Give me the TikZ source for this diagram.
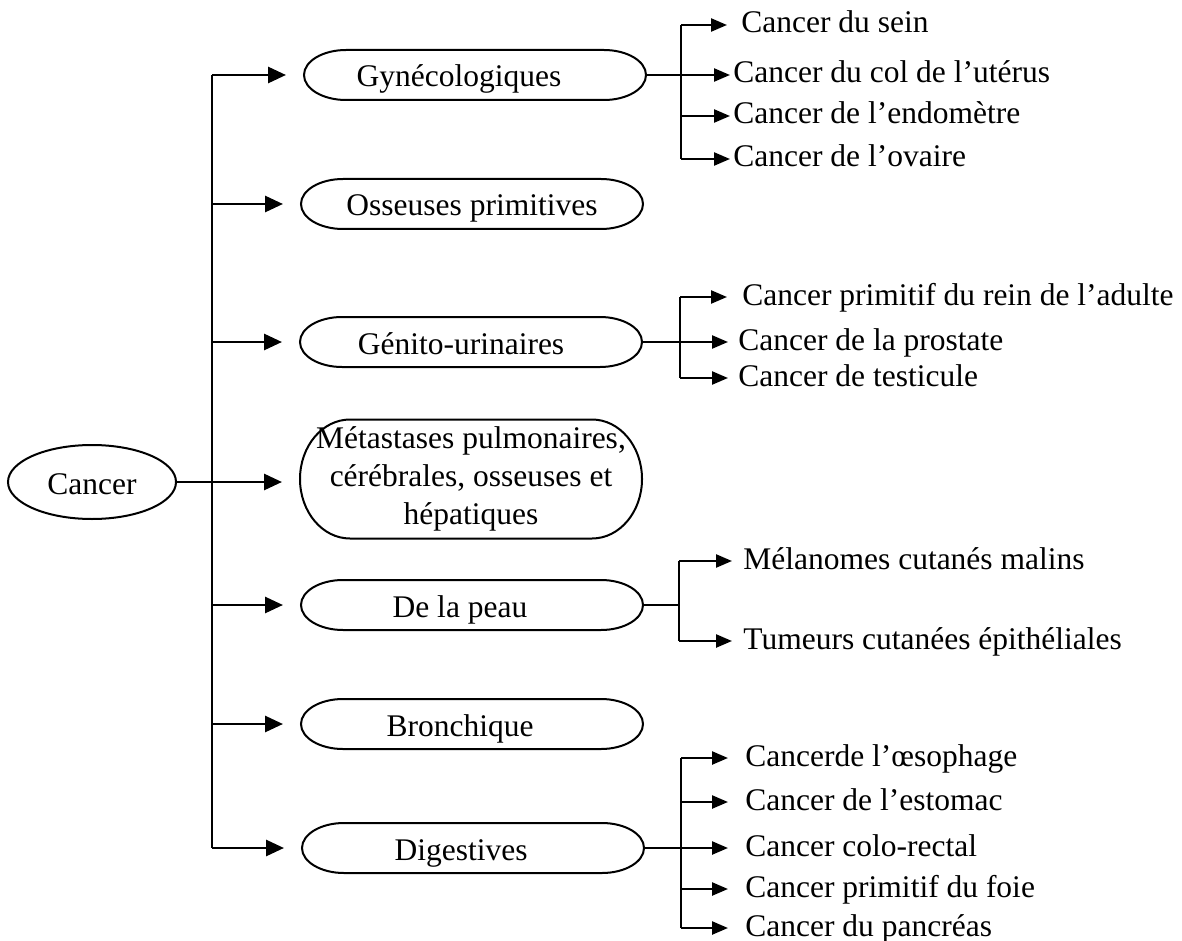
\documentclass[tikz,border=0pt]{standalone}
\usepackage{fontspec}
\setmainfont{Liberation Serif}
\usepackage{tikz}
\usetikzlibrary{arrows.meta,positioning,shapes.geometric}

\tikzset{
	root/.style={ellipse, draw, line width=1pt, minimum width=84pt, minimum height=37pt, inner sep=0pt, text height=15pt, text depth=3pt},
	capsule/.style={rectangle, minimum width=171pt, minimum height=25pt, inner sep=0pt, outer sep=0pt, text height=15pt, text depth=3pt, execute at begin node={\hspace*{-#1}}},
	capsule/.default=12pt,
	bigcapsule/.style={rectangle, minimum width=171pt, minimum height=59.5pt, inner sep=0pt, outer sep=0pt, align=center},
	item/.style={anchor=west, inner sep=0pt, text height=11pt, text depth=3pt},
	link/.style={line width=1pt},
	branch/.style={line width=1.4pt, -{Triangle[length=9pt,width=8pt]}},
	subbranch/.style={line width=1.2pt, -{Triangle[length=8pt,width=6.5pt]}}
}

% outline with elliptic ends: node, x radius, y radius
\newcommand{\drawcapsule}[3]{%
	\draw[link] ([xshift=#2]#1.north west) -- ([xshift=-#2]#1.north east)
		arc[start angle=90, end angle=-90, x radius=#2, y radius=#3]
		-- ([xshift=#2]#1.south west)
		arc[start angle=270, end angle=90, x radius=#2, y radius=#3] -- cycle;}

\begin{document}
\begin{tikzpicture}[x=0.5pt, y=-0.5pt, font=\fontsize{15.75}{19}\selectfont]
		\useasboundingbox (0,0) rectangle (1182,941);
		% root and categories
		\node[root] (cancer) at (92,482) {Cancer};
		\node[capsule=16pt] (gyn) at (475,75) {Gynécologiques};
		\node[capsule=0pt] (oss) at (472,204) {Osseuses primitives};
		\node[capsule=10pt] (gen) at (471,342) {Génito-urinaires};
		\node[bigcapsule] (meta) at (471,479) {Métastases pulmonaires,\\ cérébrales, osseuses et\\ hépatiques};
		\node[capsule] (peau) at (472,605) {De la peau};
		\node[capsule] (bron) at (472,724) {Bronchique};
		\node[capsule] (dig) at (473,848) {Digestives};
		\drawcapsule{gyn}{21pt}{12.5pt}
		\drawcapsule{oss}{21pt}{12.5pt}
		\drawcapsule{gen}{21pt}{12.5pt}
		\drawcapsule{meta}{25pt}{29.75pt}
		\drawcapsule{peau}{21pt}{12.5pt}
		\drawcapsule{bron}{21pt}{12.5pt}
		\drawcapsule{dig}{21pt}{12.5pt}
		% trunk
		\coordinate (ttop) at (212,75);
		\coordinate (tbot) at (212,848);
		\draw[link] (ttop) -- (tbot);
		\draw[link] (cancer.east) -- (cancer.east -| ttop);
		\draw[branch] (cancer.east -| ttop) -- ([xshift=-9pt]cancer.east -| meta.west);
		\draw[branch] (ttop |- gyn.west) -- ([xshift=-9pt]gyn.west);
		\draw[branch] (ttop |- oss.west) -- ([xshift=-9pt]oss.west);
		\draw[branch] (ttop |- gen.west) -- ([xshift=-9pt]gen.west);
		\draw[branch] (ttop |- peau.west) -- ([xshift=-9pt]peau.west);
		\draw[branch] (ttop |- bron.west) -- ([xshift=-9pt]bron.west);
		\draw[branch] (ttop |- dig.west) -- ([xshift=-9pt]dig.west);
		% gynecologiques
		\node[item] (sein) at (741,25) {Cancer du sein};
		\node[item] (col) at (733,75) {Cancer du col de l’utérus};
		\node[item] (endo) at (733,116) {Cancer de l’endomètre};
		\node[item] (ovaire) at (733,159) {Cancer de l’ovaire};
		\coordinate (gbar) at (681,75);
		\draw[link] (gyn.east) -- (gbar);
		\draw[link] (gbar |- sein.west) -- (gbar |- ovaire.west);
		\draw[subbranch] (gbar |- sein.west) -- ([xshift=-7pt]sein.west);
		\draw[subbranch] (gbar |- col.west) -- ([xshift=-1.5pt]col.west);
		\draw[subbranch] (gbar |- endo.west) -- ([xshift=-1.5pt]endo.west);
		\draw[subbranch] (gbar |- ovaire.west) -- ([xshift=-1.5pt]ovaire.west);
		% genito-urinaires
		\node[item] (rein) at (742,297) {Cancer primitif du rein de l’adulte};
		\node[item] (prostate) at (738,342) {Cancer de la prostate};
		\node[item] (testicule) at (738,378) {Cancer de testicule};
		\coordinate (ubar) at (680,342);
		\draw[link] (gen.east) -- (ubar);
		\draw[link] (ubar |- rein.west) -- (ubar |- testicule.west);
		\draw[subbranch] (ubar |- rein.west) -- ([xshift=-7.5pt]rein.west);
		\draw[subbranch] (ubar |- prostate.west) -- ([xshift=-5pt]prostate.west);
		\draw[subbranch] (ubar |- testicule.west) -- ([xshift=-5pt]testicule.west);
		% peau
		\node[item] (melan) at (743,561) {Mélanomes cutanés malins};
		\node[item] (tumeurs) at (743,641) {Tumeurs cutanées épithéliales};
		\coordinate (pbar) at (679,605);
		\draw[link] (peau.east) -- (pbar);
		\draw[link] (pbar |- melan.west) -- (pbar |- tumeurs.west);
		\draw[subbranch] (pbar |- melan.west) -- ([xshift=-5.5pt]melan.west);
		\draw[subbranch] (pbar |- tumeurs.west) -- ([xshift=-5.5pt]tumeurs.west);
		% digestives
		\node[item] (oeso) at (745,758) {Cancerde l’œsophage};
		\node[item] (estomac) at (745,802) {Cancer de l’estomac};
		\node[item] (colo) at (745,848) {Cancer colo-rectal};
		\node[item] (foie) at (745,889) {Cancer primitif du foie};
		\node[item] (pancreas) at (745,928) {Cancer du pancréas};
		\coordinate (dbar) at (681,848);
		\draw[link] (dig.east) -- (dbar);
		\draw[link] (dbar |- oeso.west) -- (dbar |- pancreas.west);
		\draw[subbranch] (dbar |- oeso.west) -- ([xshift=-8.5pt]oeso.west);
		\draw[subbranch] (dbar |- estomac.west) -- ([xshift=-8.5pt]estomac.west);
		\draw[subbranch] (dbar |- colo.west) -- ([xshift=-8.5pt]colo.west);
		\draw[subbranch] (dbar |- foie.west) -- ([xshift=-8.5pt]foie.west);
		\draw[subbranch] (dbar |- pancreas.west) -- ([xshift=-8.5pt]pancreas.west);
\end{tikzpicture}
\end{document}
